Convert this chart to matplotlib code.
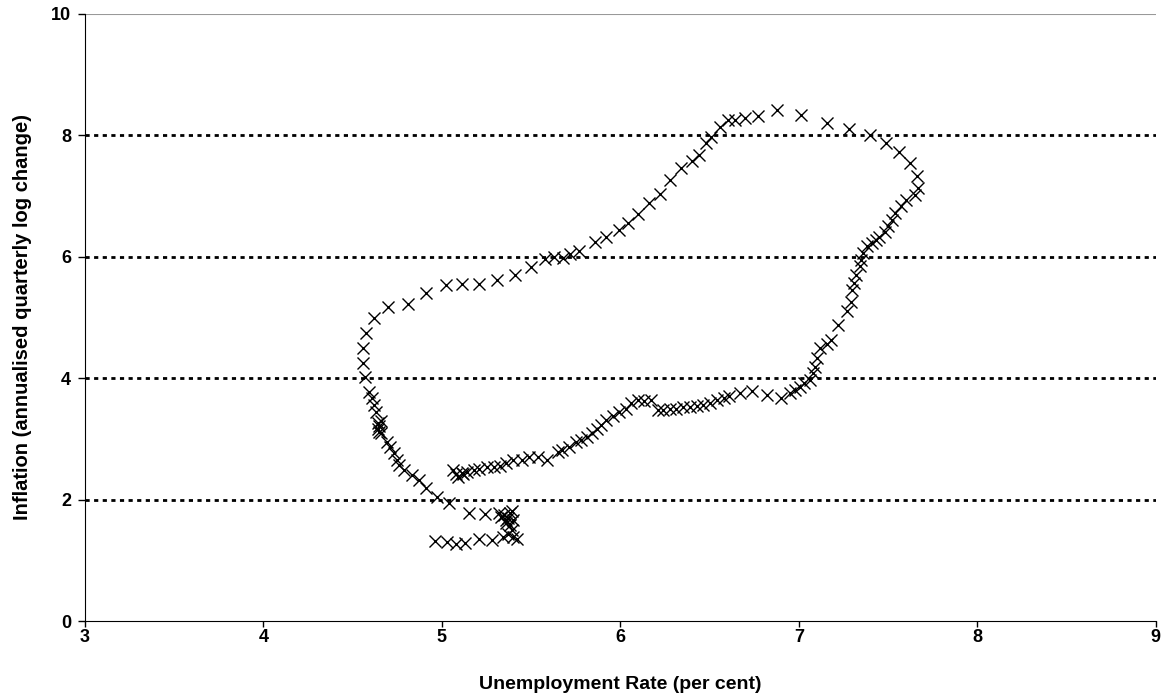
import numpy as np
import matplotlib.pyplot as plt

# Unemployment rate (per cent) and inflation (annualised quarterly log change),
# read off the reference chart, in path order
unemployment = [
    4.96, 5.03, 5.08, 5.13, 5.21, 5.28, 5.34, 5.37, 5.40, 5.42,
    5.39, 5.38, 5.36, 5.40, 5.37, 5.35, 5.38, 5.33, 5.39, 5.36,
    5.32, 5.24, 5.15, 5.04, 4.97, 4.91, 4.87, 4.83, 4.79, 4.76,
    4.75, 4.73, 4.71, 4.69, 4.66, 4.65, 4.64, 4.65, 4.64, 4.66,
    4.63, 4.62, 4.61, 4.59, 4.57, 4.56, 4.56, 4.575, 4.62, 4.70,
    4.81, 4.91, 5.02, 5.11, 5.21, 5.31, 5.41, 5.50, 5.58, 5.63,
    5.68, 5.72, 5.77, 5.86, 5.92, 5.99, 6.04, 6.10, 6.16, 6.22,
    6.28, 6.34, 6.40, 6.44, 6.48, 6.51, 6.56, 6.60, 6.64, 6.70,
    6.77, 6.88, 7.01, 7.155, 7.28, 7.40, 7.49, 7.56, 7.62, 7.66,
    7.67, 7.65, 7.60, 7.57, 7.54, 7.52, 7.50, 7.48, 7.45, 7.43,
    7.41, 7.38, 7.36, 7.35, 7.34, 7.32, 7.31, 7.30, 7.29, 7.27,
    7.22, 7.18, 7.155, 7.12, 7.10, 7.09, 7.08, 7.065, 7.03, 7.005,
    6.98, 6.95, 6.90, 6.82, 6.74, 6.67, 6.61, 6.58, 6.54, 6.50,
    6.46, 6.43, 6.39, 6.35, 6.31, 6.28, 6.24, 6.21, 6.17, 6.13,
    6.10, 6.06, 6.03, 5.99, 5.96, 5.92, 5.89, 5.87, 5.84, 5.81,
    5.78, 5.75, 5.71, 5.67, 5.65, 5.59, 5.54, 5.49, 5.45, 5.40,
    5.36, 5.325, 5.29, 5.25, 5.21, 5.18, 5.14, 5.11, 5.08, 5.06,
    5.09, 5.12,
]
inflation = [
    1.31, 1.30, 1.27, 1.29, 1.35, 1.33, 1.38, 1.44, 1.38, 1.35,
    1.50, 1.58, 1.62, 1.66, 1.70, 1.74, 1.78, 1.72, 1.82, 1.66,
    1.78, 1.76, 1.78, 1.94, 2.05, 2.19, 2.32, 2.41, 2.49, 2.57,
    2.65, 2.76, 2.87, 2.95, 3.09, 3.12, 3.17, 3.22, 3.26, 3.30,
    3.45, 3.56, 3.67, 3.78, 4.02, 4.25, 4.49, 4.74, 4.99, 5.18,
    5.23, 5.40, 5.54, 5.55, 5.55, 5.62, 5.70, 5.83, 5.96, 6.00,
    5.98, 6.05, 6.10, 6.25, 6.33, 6.44, 6.55, 6.71, 6.88, 7.03,
    7.27, 7.46, 7.57, 7.68, 7.87, 7.98, 8.14, 8.25, 8.25, 8.28,
    8.32, 8.41, 8.34, 8.20, 8.10, 8.01, 7.87, 7.72, 7.55, 7.33,
    7.13, 7.02, 6.94, 6.83, 6.72, 6.61, 6.50, 6.41, 6.33, 6.28,
    6.22, 6.17, 6.06, 5.95, 5.84, 5.70, 5.56, 5.45, 5.26, 5.10,
    4.88, 4.63, 4.57, 4.49, 4.33, 4.19, 4.08, 3.97, 3.92, 3.86,
    3.81, 3.75, 3.67, 3.72, 3.79, 3.75, 3.71, 3.68, 3.64, 3.59,
    3.56, 3.54, 3.53, 3.52, 3.50, 3.50, 3.48, 3.48, 3.64, 3.63,
    3.64, 3.59, 3.50, 3.45, 3.38, 3.31, 3.23, 3.16, 3.09, 3.03,
    2.98, 2.95, 2.87, 2.82, 2.79, 2.66, 2.70, 2.70, 2.66, 2.65,
    2.60, 2.55, 2.53, 2.53, 2.50, 2.49, 2.46, 2.44, 2.43, 2.49,
    2.38, 2.42,
]

x_ticks = [3, 4, 5, 6, 7, 8, 9]
y_ticks = [0, 2, 4, 6, 8, 10]

plt.rcParams['font.family'] = ['Liberation Sans', 'DejaVu Sans']

fig = plt.figure(figsize=(11.64, 6.97), dpi=100)
ax = fig.add_axes([0.073, 0.109, 0.920, 0.871])

# dotted horizontal gridlines
for yv in y_ticks[1:-1]:
    ax.axhline(yv, color='black', linestyle=(0, (1.5, 1.6)), linewidth=2.0, zorder=1)
ax.axhline(10, color='#999999', linewidth=1.5, zorder=1)

ax.plot(unemployment, inflation, linestyle='none', marker='x', color='black',
        markersize=9, markeredgewidth=1.0, zorder=3)

ax.set_xlim(3, 9)
ax.set_ylim(0, 10)
ax.set_xticks(x_ticks)
ax.set_yticks(y_ticks)
ax.tick_params(direction='out', length=5, width=1, labelsize=13, pad=5)
ax.tick_params(axis='x', length=4, pad=1.5)
for lbl in ax.get_xticklabels() + ax.get_yticklabels():
    lbl.set_fontweight('bold')

ax.spines['top'].set_visible(False)
ax.spines['right'].set_visible(False)

ax.set_xlabel('Unemployment Rate (per cent)', fontsize=14, fontweight='bold', labelpad=22)
ax.set_ylabel('Inflation (annualised quarterly log change)', fontsize=14.5, fontweight='bold', labelpad=14)

fig.savefig('out.png', dpi=100)
